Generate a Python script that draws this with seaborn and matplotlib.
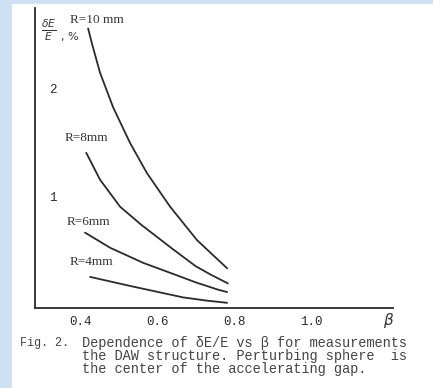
import matplotlib
matplotlib.use("Agg")
import matplotlib.pyplot as plt
import seaborn as sns
import pandas as pd
from matplotlib.patches import Rectangle

# ---- data ----
beta_r10 = [0.421, 0.431, 0.452, 0.486, 0.530, 0.574, 0.634, 0.704, 0.782]
de_r10 = [2.56, 2.42, 2.15, 1.83, 1.50, 1.22, 0.91, 0.60, 0.34]

beta_r8 = [0.416, 0.452, 0.504, 0.560, 0.640, 0.700, 0.740, 0.784]
de_r8 = [1.41, 1.16, 0.91, 0.74, 0.52, 0.36, 0.28, 0.20]

beta_r6 = [0.413, 0.478, 0.564, 0.640, 0.700, 0.760, 0.782]
de_r6 = [0.67, 0.53, 0.39, 0.29, 0.21, 0.14, 0.12]

beta_r4 = [0.426, 0.538, 0.668, 0.730, 0.782]
de_r4 = [0.26, 0.17, 0.07, 0.04, 0.02]

series_names = ["R=10 mm", "R=8mm", "R=6mm", "R=4mm"]
x_ticks = [0.4, 0.6, 0.8, 1.0]
x_tick_labels = ["0.4", "0.6", "0.8", "1.0"]
y_ticks = [1, 2]
y_tick_labels = ["1", "2"]

rows = []
for name, bx, by in zip(series_names, [beta_r10, beta_r8, beta_r6, beta_r4],
                        [de_r10, de_r8, de_r6, de_r4]):
    for b, d in zip(bx, by):
        rows.append({"beta": b, "dE": d, "R": name})
df = pd.DataFrame(rows)

sns.set_style("white")
plt.rcParams["font.family"] = ["DejaVu Sans"]

W, H = 433, 388
fig = plt.figure(figsize=(W / 100, H / 100), dpi=100)
fig.patch.set_facecolor("#cfe0f3")
page = Rectangle((12 / W, 0), 1 - 12 / W, 1 - 4 / H,
                 transform=fig.transFigure, facecolor="white",
                 edgecolor="none", zorder=-10)
fig.patches.append(page)

ax = fig.add_axes([35 / W, 1 - 308 / H, 358 / W, 300 / H])
ax.set_zorder(5)
ax.set_facecolor("none")
ink = "#2b2b2b"
sns.lineplot(data=df, x="beta", y="dE", hue="R", sort=False, estimator=None,
             palette=[ink] * 4, linewidth=1.3, legend=False, ax=ax)

ax.set_xlim(0.283, 1.213)
ax.set_ylim(-0.028, 2.75)
for s in ["top", "right"]:
    ax.spines[s].set_visible(False)
for s in ["left", "bottom"]:
    ax.spines[s].set_color(ink)
    ax.spines[s].set_linewidth(1.3)

mono = "Liberation Mono"
ax.set_xticks(x_ticks)
ax.set_xticklabels(x_tick_labels, family=mono, fontsize=9, color="#333333")
ax.tick_params(axis="x", direction="in", length=3, width=0.8, colors=ink, pad=6)
ax.set_yticks(y_ticks)
ax.set_yticklabels(y_tick_labels, family=mono, fontsize=9, color="#333333")
ax.tick_params(axis="y", direction="in", length=5, width=0.8, colors=ink, pad=-10)
for lab in ax.get_yticklabels():
    lab.set_ha("left")
ax.set_xlabel("")
ax.set_ylabel("")

# curve labels
label_pos = [(0.374, 2.64), (0.361, 1.55), (0.366, 0.77), (0.374, 0.40)]
for name, (lx, ly) in zip(series_names, label_pos):
    ax.text(lx, ly, name, family="Liberation Serif", fontsize=9.5,
            color="#333333", ha="left", va="center")

# axis labels
fig.text(41 / W, 1 - 30 / H, r"$\frac{\delta E}{E}$", fontsize=11,
         color="#333333", ha="left", va="center", zorder=6)
fig.text(61 / W, 1 - 37 / H, ", %", fontsize=8, color="#333333",
         ha="left", va="center", zorder=6)
fig.text(389 / W, 1 - 321 / H, r"$\beta$", fontsize=11, color="#333333",
         ha="center", va="center", zorder=6)

# caption
cap_kw = dict(family=mono, fontsize=9.8, color="#444444", ha="left",
              va="center", zorder=6)
fig.text(20 / W, 1 - 343 / H, "Fig. 2.",
         **{**cap_kw, "fontsize": 8.5})
fig.text(82 / W, 1 - 343 / H, "Dependence of δE/E vs β for measurements", **cap_kw)
fig.text(82 / W, 1 - 356 / H, "the DAW structure. Perturbing sphere  is", **cap_kw)
fig.text(82 / W, 1 - 369 / H, "the center of the accelerating gap.", **cap_kw)

fig.savefig("out.png", dpi=100)
